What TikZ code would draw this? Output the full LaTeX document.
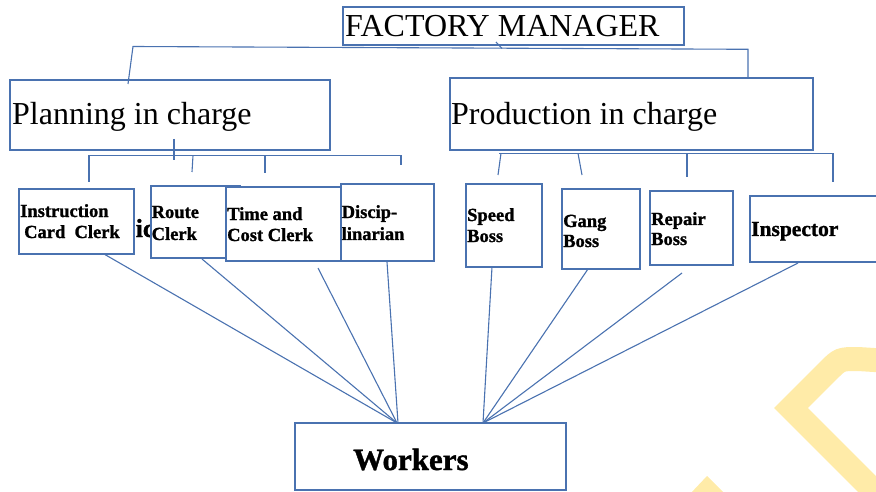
\documentclass[tikz,border=0pt]{standalone}
\usepackage{fontspec}
\setmainfont{Liberation Serif}[BoldFeatures={FakeBold=1.2}]
\usetikzlibrary{calc}
\definecolor{linkblue}{RGB}{74,114,176}
\definecolor{markyellow}{RGB}{255,235,168}
\begin{document}
\begin{tikzpicture}[x=1pt,y=-1pt,
  box/.style={draw=linkblue, line width=1.2pt, fill=white, rectangle,
    inner sep=0pt, outer sep=0pt, anchor=north west},
  link/.style={draw=linkblue, line width=1.1pt},
  bigtxt/.style={anchor=base west, inner sep=0pt, font=\fontsize{32}{32}\selectfont},
  smalltxt/.style={anchor=base west, inner sep=0pt, font=\fontsize{18.5}{18.5}\selectfont\bfseries},
]
\useasboundingbox (0,0) rectangle (876,492);
\clip (0,0) rectangle (876,492);

% pale logo mark in the lower right corner
\draw[markyellow, line width=24pt, line join=miter, line cap=butt]
  (890,507) -- (791,408) -- (828,371) .. controls (840,359) .. (858,359) -- (890,361);
\fill[markyellow] (690,494) -- (707,476) -- (725,494) -- cycle;

% top level
\node[box, minimum width=341pt, minimum height=38pt] (fm) at (343,7) {};
\node[bigtxt] (fmtxt) at (345,37) {FACTORY MANAGER};

% second level
\node[box, minimum width=320pt, minimum height=70pt] (plan) at (10,80) {};
\node[bigtxt] (plantxt) at (12,125) {Planning in charge};
\node[box, minimum width=363pt, minimum height=72pt] (prod) at (450,78) {};
\node[bigtxt] (prodtxt) at (451,125) {Production in charge};

% planning staff
\node[box, minimum width=115pt, minimum height=65pt] (icc) at (19,189) {};
\node[smalltxt] (icc1) at (20,217) {Instruction};
\node[smalltxt] (icc2) at (24,238) {Card\ \ Clerk};
\node[anchor=base west, inner sep=0pt, font=\fontsize{26}{26}\selectfont\bfseries] (frag) at (135.5,237) {ic};
\node[box, minimum width=89pt, minimum height=72pt] (route) at (151,186) {};
\node[smalltxt] (route1) at (151.5,218) {Route};
\node[smalltxt] (route2) at (151.5,240) {Clerk};
\node[box, minimum width=124pt, minimum height=74pt] (tcc) at (226,187) {};
\node[smalltxt] (tcc1) at (227,220) {Time and};
\node[smalltxt] (tcc2) at (227,241) {Cost Clerk};
\node[box, minimum width=93pt, minimum height=77pt] (disc) at (341,184) {};
\node[smalltxt] (disc1) at (341.5,218) {Discip-};
\node[smalltxt] (disc2) at (341.5,240) {linarian};

% production staff
\node[box, minimum width=76pt, minimum height=83pt] (speed) at (466,184) {};
\node[smalltxt] (speed1) at (467,221) {Speed};
\node[smalltxt] (speed2) at (467,242) {Boss};
\node[box, minimum width=78pt, minimum height=80pt] (gang) at (562,189) {};
\node[smalltxt] (gang1) at (563,227) {Gang};
\node[smalltxt] (gang2) at (563,247) {Boss};
\node[box, minimum width=83pt, minimum height=74pt] (repair) at (650,191) {};
\node[smalltxt] (repair1) at (651,225) {Repair};
\node[smalltxt] (repair2) at (651,245) {Boss};
\node[box, minimum width=140pt, minimum height=66pt] (insp) at (750,196) {};
\node[anchor=base west, inner sep=0pt, font=\fontsize{21.5}{21.5}\selectfont\bfseries] (insptxt) at (751,236) {Inspector};

% bottom level
\node[box, minimum width=271pt, minimum height=67pt] (workers) at (295,423) {};
\node[anchor=base west, inner sep=0pt, font=\fontsize{31}{31}\selectfont\bfseries] (workerstxt) at (353,470) {Workers};

% manager bus
\coordinate (topL) at (133,46.5);
\coordinate (topR) at (748,49.3);
\draw[link] ($(fm.south west)+(153,-3)$) -- (502,48.5);
\draw[link] ($(plan.north west)+(118,4)$) -- (topL) -- (topR) -- ($(prod.north west)+(298,0)$);

% planning bus
\coordinate (pbL) at (89,155.5);
\coordinate (pbR) at (401,155.5);
\draw[link] ($(plan.south west)+(164,-11)$) -- (174,160);
\draw[link] ($(icc.north west)+(70,-7)$) -- (pbL) -- (pbR) -- (401,165);
\draw[link] (193,155.5) -- (192,172);
\draw[link] (265,155.5) -- (265,173);

% production bus
\coordinate (rbL) at (499,153.3);
\coordinate (rbR) at (833,153.3);
\draw[link] (rbL) -- (rbR) -- (833,182);
\draw[link] (501,153.3) -- (498,175);
\draw[link] (578,153.3) -- (582,175);
\draw[link] (687,153.3) -- (687,177);

% staff to workers
\coordinate (wL) at ($(workers.north west)+(102,0)$);
\coordinate (wR) at ($(workers.north west)+(188,0)$);
\draw[link] ($(icc.south west)+(85,0)$) -- (wL);
\draw[link] ($(route.south west)+(51,1)$) -- (wL);
\draw[link] ($(tcc.south west)+(92,7)$) -- (wL);
\draw[link] ($(disc.south west)+(46,1)$) -- ($(wL)+(1,0)$);
\draw[link] ($(speed.south west)+(26,0)$) -- (wR);
\draw[link] ($(gang.south west)+(26,0)$) -- (wR);
\draw[link] ($(repair.south west)+(32,8)$) -- (wR);
\draw[link] ($(insp.south west)+(48,1)$) -- (wR);
\end{tikzpicture}
\end{document}
